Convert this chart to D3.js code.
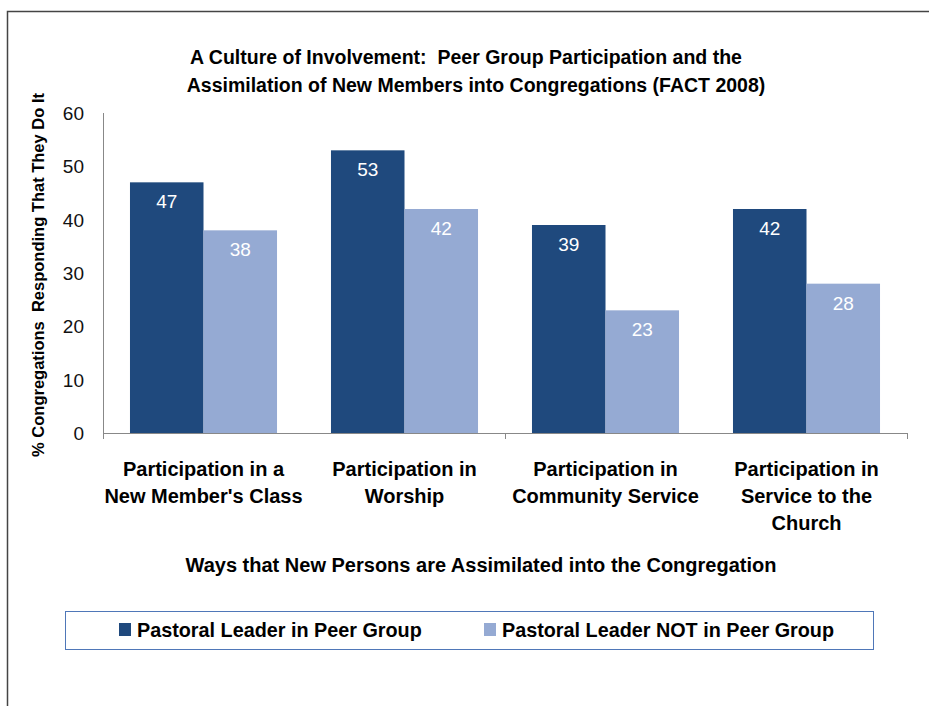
<!DOCTYPE html>
<html lang="en">
<head>
    <meta charset="UTF-8">
    <title>A Culture of Involvement</title>
    <script src="https://d3js.org/d3.v7.min.js"></script>
    <style>
        body { margin: 0; background: #fff; }
        svg text { font-family: "Liberation Sans", sans-serif; white-space: pre; }
    </style>
</head>
<body>
    <svg width="929" height="706"></svg>

    <script>
        const categories = [
            ["Participation in a", "New Member's Class"],
            ["Participation in", "Worship"],
            ["Participation in", "Community Service"],
            ["Participation in", "Service to the", "Church"]
        ];
        const seriesNames = ["Pastoral Leader in Peer Group", "Pastoral Leader NOT in Peer Group"];
        const inPeerGroup = [47, 53, 39, 42];
        const notInPeerGroup = [38, 42, 23, 28];
        const yTicks = [0, 10, 20, 30, 40, 50, 60];
        const colors = ["#1F497D", "#95AAD3"];

        const svg = d3.select("svg");

        // outer frame (only top and left edges show)
        svg.append("path")
            .attr("d", "M7.5,706 V11.5 H929")
            .attr("fill", "none")
            .attr("stroke", "#444")
            .attr("stroke-width", 1.5);

        const plotLeft = 103, plotRight = 907, plotTop = 113, plotBottom = 433;

        const x = d3.scaleBand()
            .domain(d3.range(categories.length))
            .range([plotLeft, plotRight])
            .paddingInner(0)
            .paddingOuter(0);

        const xInner = d3.scaleBand()
            .domain([0, 1])
            .range([0, x.bandwidth()])
            .paddingOuter(0.367);

        const y = d3.scaleLinear()
            .domain([0, 60])
            .range([plotBottom, plotTop]);

        // title
        const title = svg.append("text")
            .attr("text-anchor", "middle")
            .attr("font-weight", "bold")
            .attr("font-size", 19.5)
            .attr("fill", "#000");
        title.append("tspan").attr("x", 466).attr("y", 64)
            .text("A Culture of Involvement:  Peer Group Participation and the");
        title.append("tspan").attr("x", 476).attr("y", 92)
            .text("Assimilation of New Members into Congregations (FACT 2008)");

        // bars
        const series = [inPeerGroup, notInPeerGroup];
        series.forEach(function (vals, si) {
            const g = svg.append("g");
            g.selectAll("rect")
                .data(vals)
                .enter()
                .append("rect")
                .attr("x", (d, i) => x(i) + xInner(si))
                .attr("width", xInner.bandwidth())
                .attr("y", d => y(d))
                .attr("height", d => y(0) - y(d))
                .attr("fill", colors[si]);

            g.selectAll("text")
                .data(vals)
                .enter()
                .append("text")
                .attr("x", (d, i) => x(i) + xInner(si) + xInner.bandwidth() / 2)
                .attr("y", d => y(d) + 26)
                .attr("text-anchor", "middle")
                .attr("font-size", 19)
                .attr("fill", "#fff")
                .text(d => d);
        });

        // y axis
        svg.append("line")
            .attr("x1", plotLeft + 0.5).attr("x2", plotLeft + 0.5)
            .attr("y1", plotTop).attr("y2", plotBottom)
            .attr("stroke", "#888");
        svg.append("g").selectAll("text")
            .data(yTicks)
            .enter()
            .append("text")
            .attr("x", 84)
            .attr("y", d => y(d) + 7)
            .attr("text-anchor", "end")
            .attr("font-size", 19)
            .attr("fill", "#111")
            .text(d => d);

        // x axis with ticks at the ends and the middle
        svg.append("line")
            .attr("x1", plotLeft).attr("x2", plotRight)
            .attr("y1", plotBottom + 0.5).attr("y2", plotBottom + 0.5)
            .attr("stroke", "#888");
        [0, 2, 4].forEach(function (k) {
            const tx = k < 4 ? x(k) : plotRight;
            svg.append("line")
                .attr("x1", tx + 0.5).attr("x2", tx + 0.5)
                .attr("y1", plotBottom).attr("y2", plotBottom + 6)
                .attr("stroke", "#888");
        });

        // category labels
        categories.forEach(function (lines, i) {
            const t = svg.append("text")
                .attr("text-anchor", "middle")
                .attr("font-weight", "bold")
                .attr("font-size", 20)
                .attr("fill", "#000");
            lines.forEach(function (ln, j) {
                t.append("tspan")
                    .attr("x", x(i) + x.bandwidth() / 2)
                    .attr("y", 476 + j * 27)
                    .text(ln);
            });
        });

        // axis titles
        svg.append("text")
            .attr("x", 481).attr("y", 572)
            .attr("text-anchor", "middle")
            .attr("font-weight", "bold")
            .attr("font-size", 20)
            .attr("fill", "#000")
            .text("Ways that New Persons are Assimilated into the Congregation");

        svg.append("text")
            .attr("transform", "translate(44,275) rotate(-90)")
            .attr("text-anchor", "middle")
            .attr("font-weight", "bold")
            .attr("font-size", 16.5)
            .attr("fill", "#000")
            .text("% Congregations  Responding That They Do It");

        // legend
        svg.append("rect")
            .attr("x", 65.5).attr("y", 611.5)
            .attr("width", 808).attr("height", 38)
            .attr("fill", "#fff")
            .attr("stroke", "#4F77B8")
            .attr("stroke-width", 1);

        const legendX = [119, 484];
        seriesNames.forEach(function (name, i) {
            svg.append("rect")
                .attr("x", legendX[i]).attr("y", 623)
                .attr("width", 12).attr("height", 13)
                .attr("fill", colors[i]);
            svg.append("text")
                .attr("x", legendX[i] + 18).attr("y", 637)
                .attr("font-weight", "bold")
                .attr("font-size", 19.8)
                .attr("fill", "#000")
                .text(name);
        });
    </script>
</body>
</html>
